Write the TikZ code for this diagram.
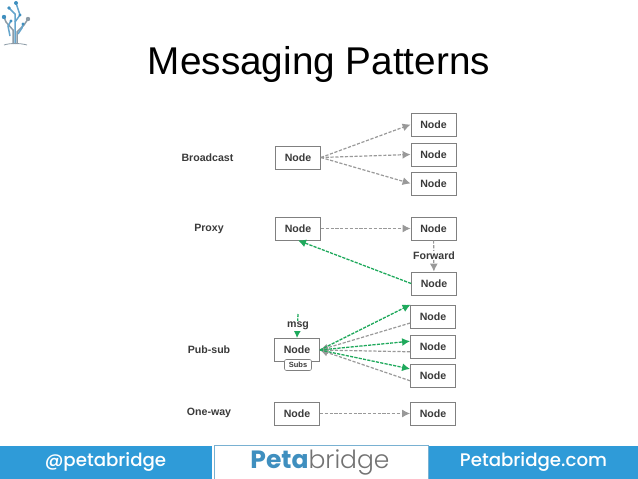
\documentclass[tikz,border=0pt]{standalone}
\usepackage{fontspec}
\setmainfont{Liberation Sans}
\newfontfamily\logofont{Poppins}
\newfontfamily\logomedium{Poppins Medium}
\newfontfamily\logolight{Poppins Light}
\usetikzlibrary{arrows.meta}
\usetikzlibrary{calc}
\definecolor{barblue}{HTML}{2F9BD8}
\definecolor{logoblue}{HTML}{3F8FBF}
\definecolor{treegray}{HTML}{8C9BA6}
\definecolor{linegray}{HTML}{999999}
\definecolor{msggreen}{HTML}{1FA95C}
\definecolor{textdark}{HTML}{3A3A3A}
\tikzset{
    box/.style={draw=black!50, line width=0.8pt, fill=white, minimum width=45pt, minimum height=23pt, inner sep=0pt, text=textdark, font=\fontsize{10.6}{12}\selectfont\bfseries},
    rowlabel/.style={inner sep=0pt, text=textdark, font=\fontsize{10.6}{12}\selectfont\bfseries},
    graydash/.style={draw=linegray, line width=1.2pt, dash pattern=on 3.2pt off 1.6pt, -{Latex[length=8pt,width=8pt]}},
    greendash/.style={draw=msggreen, line width=1.3pt, dash pattern=on 3.2pt off 1.2pt, -{Latex[length=8pt,width=8pt]}},
    bartext/.style={inner sep=0pt, text=white, font=\logomedium\fontsize{18.2}{20}\selectfont},
    twig/.style={draw=treegray, line width=1.5pt},
    twigblue/.style={draw=logoblue!80, line width=1.5pt}
}
\begin{document}
\begin{tikzpicture}[x=1pt, y=-1pt]
    \useasboundingbox (0,0) rectangle (638,479);
    % title
    \node[inner sep=0pt, text=black, font=\fontsize{38.7}{44}\selectfont] (title) at (319,64) {Messaging Patterns};
    % logo
    \draw[twig] (13,44) -- (13,30) -- (6,22) -- (4,17);
    \draw[twig] (17,44) -- (17,32) -- (24,25) -- (28,19);
    \draw[twigblue] (15,44) -- (15,14) -- (9,8);
    \draw[twigblue] (15,22) -- (20,15) -- (16,3);
    \draw[twigblue] (10,36) -- (8,26) -- (11,21);
    \draw[twigblue] (18,34) -- (22,28) -- (23,24);
    \draw[treegray, line width=0.8pt] (4,45) .. controls (10,43) and (20,43) .. (27,45);
    \fill[logoblue] (16,3) circle (2pt) (4,17) circle (2.2pt) (9,8) circle (1.8pt) (20,15) circle (1.6pt) (11,21) circle (1.6pt) (23,24) circle (1.6pt);
    \fill[treegray] (28,19) circle (2.2pt);
    % broadcast
    \node[rowlabel] (broadcast) at (207.5,158) {Broadcast};
    \node[box] (bsrc) at (298,157.5) {Node};
    \node[box] (bone) at (433.5,124.5) {Node};
    \node[box] (btwo) at (433.5,154.5) {Node};
    \node[box] (bthree) at (433.5,183.5) {Node};
    \foreach \t in {bone,btwo,bthree} {
        \draw[graydash] (bsrc.east) -- (\t.west);
    }
    % proxy
    \node[rowlabel] (proxy) at (209,229) {Proxy};
    \node[box] (psrc) at (298,228.5) {Node};
    \node[box] (pmid) at (433.5,228.5) {Node};
    \node[box] (pend) at (434,283.5) {Node};
    \draw[graydash] (psrc) -- (pmid);
    \draw[graydash] (pmid) -- (pend);
    \node[rowlabel, fill=white, inner sep=1pt] (forward) at (434,255.5) {Forward};
    \draw[greendash] (pend.west) -- (psrc.south);
    % pub-sub
    \node[rowlabel] (pubsub) at (209,350) {Pub-sub};
    \node[box] (ssrc) at (297,350) {Node};
    \node[box] (sone) at (433,316.5) {Node};
    \node[box] (stwo) at (433,346.5) {Node};
    \node[box] (sthree) at (433,375.5) {Node};
    \node[draw=black!50, fill=white, rounded corners=2pt, line width=0.6pt, minimum width=27pt, minimum height=11pt, inner sep=0pt, text=textdark, font=\fontsize{7.5}{8}\selectfont\bfseries] (subs) at (298,365) {Subs};
    \coordinate (msgtop) at (298,314);
    \draw[greendash] (msgtop) -- (ssrc.north);
    \node[rowlabel, fill=white, inner sep=1pt] (msg) at (298,326) {msg};
    \foreach \t/\a in {sone/196,stwo/193,sthree/193} {
        \draw[graydash] (\t.\a) -- (ssrc.east);
    }
    \foreach \t/\a in {sone/152,stwo/167,sthree/164} {
        \draw[greendash] (ssrc.east) -- (\t.\a);
    }
    % one-way
    \node[rowlabel] (oneway) at (209,413) {One-way};
    \node[box] (osrc) at (297,413.5) {Node};
    \node[box] (odst) at (433,413.5) {Node};
    \draw[graydash] (osrc) -- (odst);
    % footer
    \fill[barblue] (0,446) rectangle (212,479);
    \fill[barblue] (429,446) rectangle (638,479);
    \draw[draw=logoblue!70, line width=0.8pt, fill=white] (214,445.5) rectangle (428,480);
    \node[bartext] (handle) at (105.5,461.5) {@petabridge};
    \node[bartext] (site) at (533.5,461.5) {Petabridge.com};
    \node[inner sep=0pt, font=\fontsize{25}{28}\selectfont] (logotext) at (320,462) {{\logofont\bfseries\textcolor{logoblue}{Peta}}{\logolight\textcolor{black!55}{bridge}}};
\end{tikzpicture}
\end{document}
